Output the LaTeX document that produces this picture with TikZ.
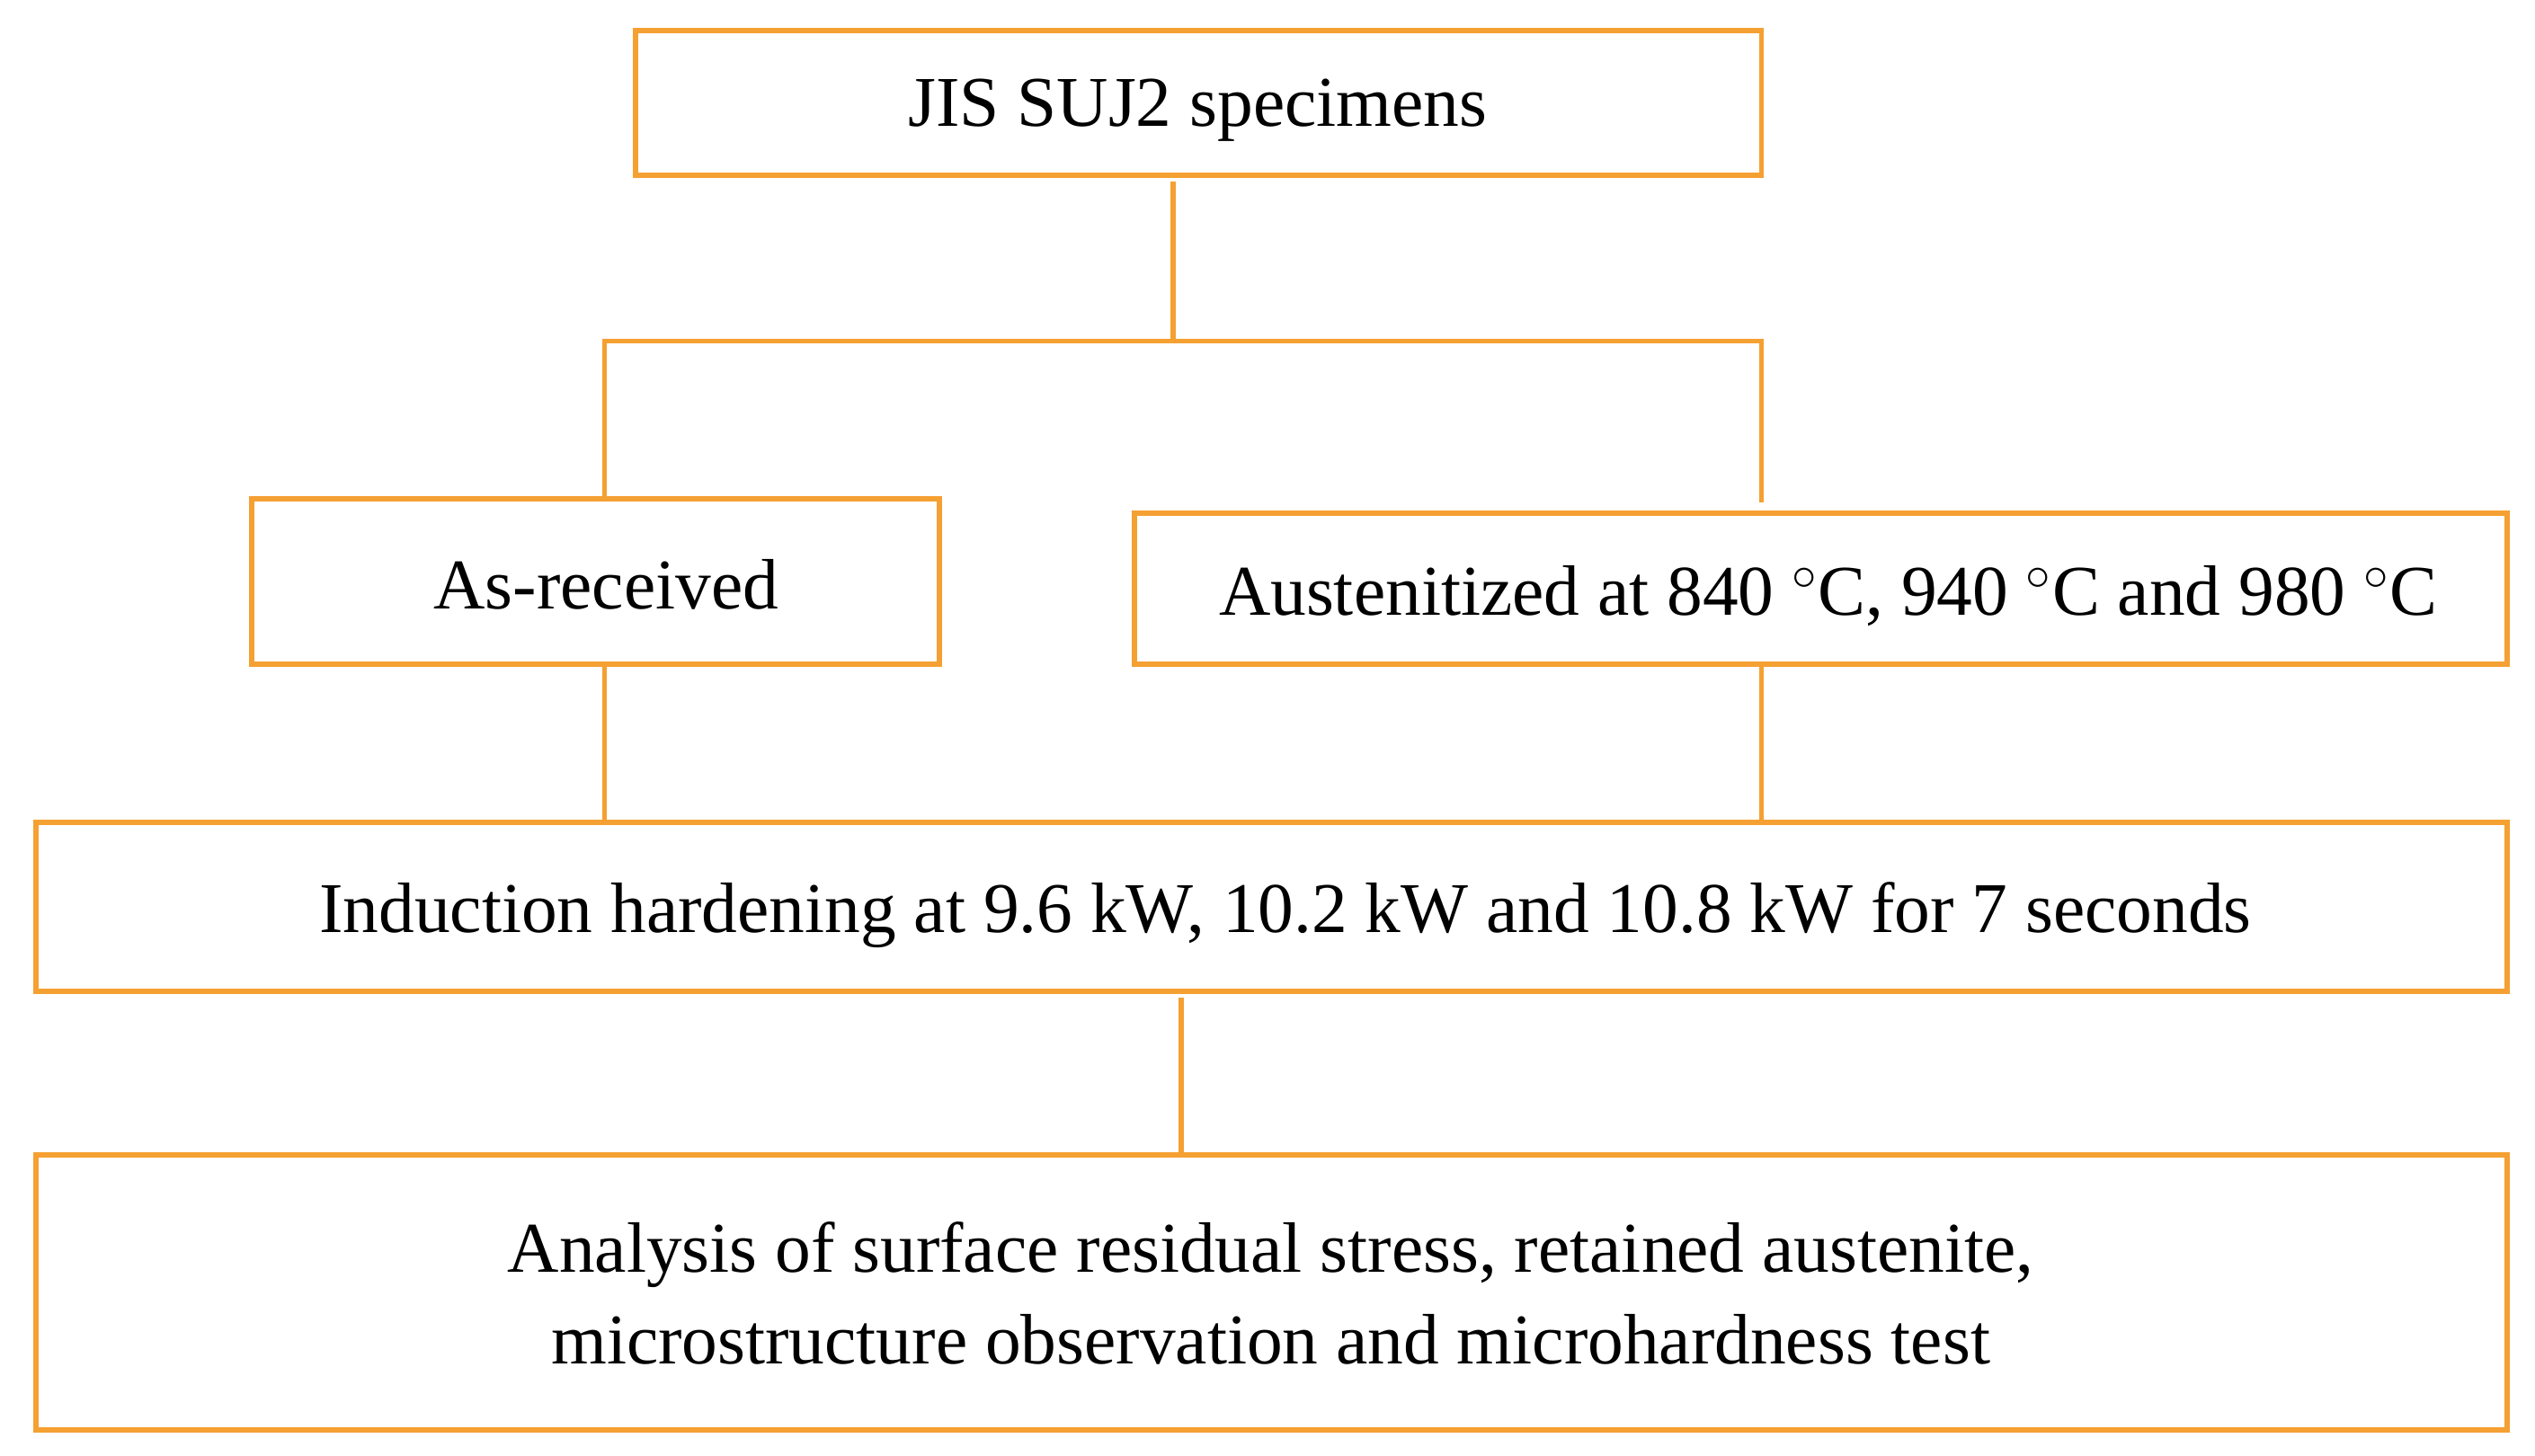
\documentclass[tikz,border=0pt]{standalone}
\usepackage{fontspec}
\setmainfont{Liberation Serif}
\definecolor{org}{HTML}{F5A032}
\begin{document}
\begin{tikzpicture}[x=0.02cm,y=-0.02cm,
  box/.style={draw=org,line width=1.8pt,inner sep=0pt},
  ln/.style={draw=org,line width=1.8pt},
  lab/.style={font=\fontsize{25}{32}\selectfont,align=center}]
\useasboundingbox (0,0) rectangle (1560,896);
\draw[box] (391,19) rectangle (1084,108);
\node[lab] (t) at (737,68) {JIS SUJ2 specimens};
\draw[box] (155,307) rectangle (578,409);
\node[lab] (a) at (373,360) {As-received};
\draw[box] (698,316) rectangle (1543,409);
\node[lab] (b) at (1125,367) {Austenitized at 840 $^{\circ}$C, 940 $^{\circ}$C and 980 $^{\circ}$C};
\draw[box] (22,506) rectangle (1543,610);
\node[lab] (c) at (791,563) {Induction hardening at 9.6 kW, 10.2 kW and 10.8 kW for 7 seconds};
\draw[box] (22,711) rectangle (1543,880);
\node[lab] (d) at (782,796) {Analysis of surface residual stress, retained austenite,\\microstructure observation and microhardness test};
\coordinate (t1) at (722,112);
\coordinate (j) at (722,210);
\coordinate (l) at (372,210);
\coordinate (r) at (1084,210);
\draw[ln] (t1) -- (j);
\draw[ln] (372,307) -- (l) -- (r) -- (1084,309);
\draw[ln] (372,409) -- (372,506);
\draw[ln] (1084,409) -- (1084,506);
\draw[ln] (727,614) -- (727,711);
\end{tikzpicture}
\end{document}
